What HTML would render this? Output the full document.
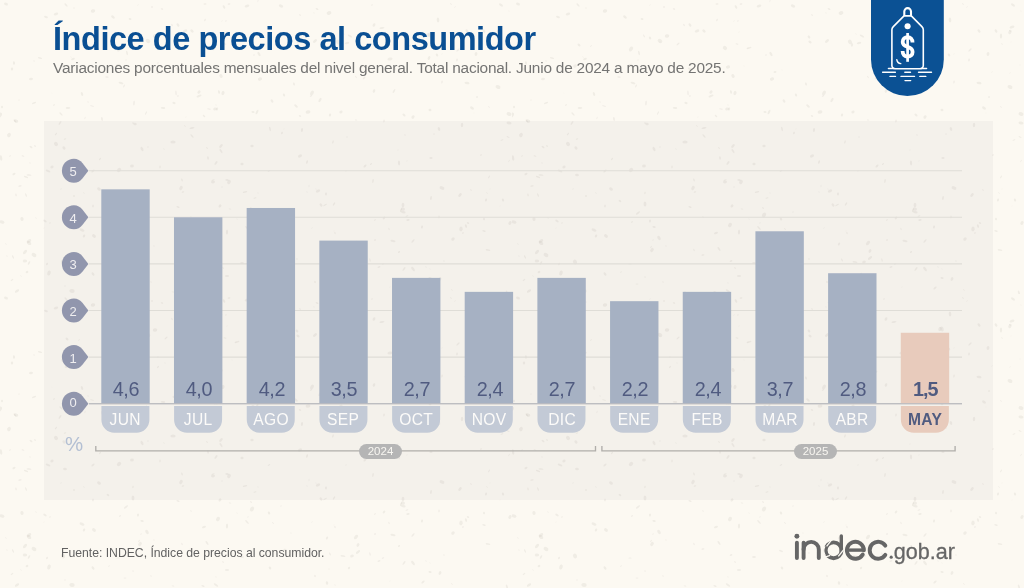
<!DOCTYPE html>
<html><head><meta charset="utf-8"><title>IPC</title>
<style>
*{margin:0;padding:0;box-sizing:border-box}
html,body{width:1024px;height:588px;overflow:hidden;background:#fcf9f2;font-family:"Liberation Sans",sans-serif}
#root{position:relative;width:1024px;height:588px;background:#fcf9f2;overflow:hidden}
#panel{position:absolute;left:44px;top:121px;width:949px;height:379px;background:#f4f1eb}
h1,#sub,.val,.lab,.bn,#pct,.yr,#src,#logo,#icon{will-change:transform}
h1{position:absolute;left:53px;top:20.4px;font-size:32.5px;line-height:38px;font-weight:bold;color:#0a4f93;white-space:nowrap;letter-spacing:-0.45px}
#sub{position:absolute;left:53.2px;top:59.4px;font-size:15.4px;line-height:18px;color:#747473;white-space:nowrap;letter-spacing:-0.21px}
.gl{position:absolute;left:89px;width:873px;height:1px;background:#e3e0da}
.gl.base{background:#b9b8b8}
.gl.base2{background:#b4b5bb;height:1.2px}
.bar{position:absolute;width:48.4px;background:#a6b1c3}
.bar.may{background:#e8cbbc}
.val{position:absolute;width:48.4px;top:375.9px;text-align:center;font-size:19.8px;line-height:26px;color:#505b80;letter-spacing:-0.4px;text-indent:1.4px}
.val.may{font-weight:bold;letter-spacing:-0.9px;text-indent:0.2px}
.lab{position:absolute;width:48px;top:407.7px;height:26.8px;text-align:center;font-size:15.6px;line-height:24.5px;color:#fcfbf9;letter-spacing:0.3px;text-indent:0.3px}
.lab.may{color:#505b80;font-weight:bold}
#chart,#speck{position:absolute;left:0;top:0}
.bn{position:absolute;left:61px;width:24px;text-align:center;font-size:13px;line-height:18px;color:#efeef0}
.bn.z{margin-top:-2px}
#pct{position:absolute;left:65.3px;top:431.6px;font-size:20.4px;line-height:24px;color:#b3bfd3}
.br{position:absolute;height:6px;border:1.5px solid #adaba7;border-top:none}
.yr{position:absolute;top:443.5px;height:15px;border-radius:8px;background:#b5b5b5;color:#f8f6f1;font-size:11.5px;line-height:15px;text-align:center;width:43px}
#src{position:absolute;left:61px;top:546.1px;font-size:12.25px;line-height:15px;color:#626262;white-space:nowrap;letter-spacing:-0.03px}
#logo{position:absolute;left:780px;top:520px}
#icon{position:absolute;left:870.8px;top:0}
</style></head><body>
<div id="root">
<div id="panel"></div>
<svg id="speck" width="1024" height="588"><defs><pattern id="sp" width="512" height="294" patternUnits="userSpaceOnUse"><g fill="#8a8578" fill-opacity="0.10"><ellipse cx="166" cy="44" rx="2.0" ry="0.7" transform="rotate(137 166 44)"/><ellipse cx="48" cy="171" rx="2.5" ry="1.0" transform="rotate(22 48 171)"/><ellipse cx="222" cy="21" rx="0.8" ry="0.4" transform="rotate(144 222 21)"/><ellipse cx="63" cy="66" rx="1.9" ry="1.5" transform="rotate(147 63 66)"/><ellipse cx="300" cy="15" rx="1.1" ry="0.6" transform="rotate(34 300 15)"/><ellipse cx="148" cy="42" rx="0.8" ry="0.4" transform="rotate(174 148 42)"/><ellipse cx="93" cy="171" rx="1.9" ry="0.9" transform="rotate(140 93 171)"/><ellipse cx="365" cy="166" rx="1.9" ry="1.0" transform="rotate(136 365 166)"/><ellipse cx="219" cy="92" rx="1.8" ry="1.0" transform="rotate(76 219 92)"/><ellipse cx="127" cy="53" rx="2.2" ry="0.8" transform="rotate(76 127 53)"/><ellipse cx="269" cy="257" rx="2.1" ry="0.9" transform="rotate(18 269 257)"/><ellipse cx="60" cy="123" rx="2.2" ry="0.8" transform="rotate(125 60 123)"/><ellipse cx="216" cy="283" rx="0.8" ry="0.4" transform="rotate(80 216 283)"/><ellipse cx="174" cy="103" rx="1.6" ry="1.1" transform="rotate(17 174 103)"/><ellipse cx="430" cy="278" rx="1.6" ry="1.0" transform="rotate(15 430 278)"/><ellipse cx="374" cy="91" rx="1.8" ry="1.2" transform="rotate(114 374 91)"/><ellipse cx="146" cy="113" rx="2.0" ry="0.6" transform="rotate(118 146 113)"/><ellipse cx="182" cy="180" rx="1.6" ry="0.7" transform="rotate(73 182 180)"/><ellipse cx="66" cy="73" rx="1.4" ry="1.0" transform="rotate(20 66 73)"/><ellipse cx="85" cy="118" rx="1.2" ry="0.4" transform="rotate(110 85 118)"/><ellipse cx="442" cy="82" rx="1.5" ry="0.7" transform="rotate(97 442 82)"/><ellipse cx="490" cy="44" rx="1.0" ry="0.4" transform="rotate(59 490 44)"/><ellipse cx="6" cy="244" rx="1.0" ry="0.4" transform="rotate(37 6 244)"/><ellipse cx="215" cy="109" rx="1.8" ry="1.4" transform="rotate(176 215 109)"/><ellipse cx="440" cy="279" rx="2.0" ry="1.3" transform="rotate(116 440 279)"/><ellipse cx="461" cy="229" rx="2.4" ry="1.7" transform="rotate(100 461 229)"/><ellipse cx="204" cy="116" rx="1.6" ry="0.8" transform="rotate(48 204 116)"/><ellipse cx="34" cy="61" rx="0.9" ry="0.4" transform="rotate(13 34 61)"/><ellipse cx="52" cy="167" rx="1.7" ry="1.3" transform="rotate(157 52 167)"/><ellipse cx="13" cy="257" rx="1.9" ry="0.7" transform="rotate(64 13 257)"/><ellipse cx="489" cy="177" rx="1.6" ry="0.6" transform="rotate(124 489 177)"/><ellipse cx="508" cy="137" rx="1.6" ry="0.6" transform="rotate(26 508 137)"/><ellipse cx="384" cy="218" rx="1.6" ry="1.0" transform="rotate(132 384 218)"/><ellipse cx="12" cy="280" rx="1.7" ry="0.6" transform="rotate(139 12 280)"/><ellipse cx="468" cy="223" rx="1.2" ry="0.8" transform="rotate(23 468 223)"/><ellipse cx="356" cy="77" rx="1.4" ry="0.5" transform="rotate(57 356 77)"/><ellipse cx="273" cy="229" rx="1.3" ry="0.5" transform="rotate(49 273 229)"/><ellipse cx="413" cy="241" rx="2.2" ry="0.9" transform="rotate(132 413 241)"/><ellipse cx="252" cy="215" rx="2.7" ry="1.9" transform="rotate(120 252 215)"/><ellipse cx="133" cy="204" rx="2.6" ry="1.4" transform="rotate(89 133 204)"/><ellipse cx="489" cy="107" rx="1.1" ry="0.4" transform="rotate(50 489 107)"/><ellipse cx="173" cy="142" rx="2.7" ry="1.6" transform="rotate(0 173 142)"/><ellipse cx="245" cy="192" rx="2.3" ry="0.8" transform="rotate(169 245 192)"/><ellipse cx="61" cy="114" rx="2.1" ry="0.8" transform="rotate(45 61 114)"/><ellipse cx="222" cy="187" rx="0.8" ry="0.6" transform="rotate(101 222 187)"/><ellipse cx="237" cy="219" rx="0.8" ry="0.3" transform="rotate(32 237 219)"/><ellipse cx="14" cy="174" rx="1.6" ry="1.0" transform="rotate(156 14 174)"/><ellipse cx="423" cy="288" rx="2.0" ry="0.9" transform="rotate(140 423 288)"/><ellipse cx="281" cy="6" rx="2.3" ry="1.5" transform="rotate(26 281 6)"/><ellipse cx="270" cy="274" rx="1.5" ry="1.1" transform="rotate(54 270 274)"/><ellipse cx="14" cy="63" rx="1.7" ry="1.1" transform="rotate(83 14 63)"/><ellipse cx="133" cy="123" rx="0.9" ry="0.7" transform="rotate(90 133 123)"/><ellipse cx="460" cy="195" rx="2.3" ry="1.3" transform="rotate(128 460 195)"/><ellipse cx="67" cy="45" rx="1.7" ry="1.2" transform="rotate(46 67 45)"/><ellipse cx="312" cy="228" rx="0.9" ry="0.3" transform="rotate(158 312 228)"/><ellipse cx="371" cy="164" rx="1.3" ry="0.7" transform="rotate(142 371 164)"/><ellipse cx="247" cy="228" rx="2.5" ry="0.8" transform="rotate(48 247 228)"/><ellipse cx="142" cy="227" rx="1.7" ry="1.0" transform="rotate(16 142 227)"/><ellipse cx="227" cy="180" rx="1.7" ry="0.9" transform="rotate(177 227 180)"/><ellipse cx="142" cy="149" rx="2.3" ry="1.3" transform="rotate(63 142 149)"/><ellipse cx="358" cy="258" rx="2.6" ry="1.1" transform="rotate(143 358 258)"/><ellipse cx="457" cy="60" rx="1.5" ry="0.8" transform="rotate(100 457 60)"/><ellipse cx="226" cy="21" rx="1.1" ry="0.4" transform="rotate(171 226 21)"/><ellipse cx="155" cy="36" rx="2.2" ry="1.7" transform="rotate(164 155 36)"/><ellipse cx="338" cy="42" rx="2.5" ry="1.9" transform="rotate(56 338 42)"/><ellipse cx="382" cy="28" rx="2.5" ry="0.9" transform="rotate(170 382 28)"/><ellipse cx="426" cy="47" rx="1.5" ry="0.8" transform="rotate(86 426 47)"/><ellipse cx="216" cy="105" rx="0.8" ry="0.4" transform="rotate(86 216 105)"/><ellipse cx="284" cy="129" rx="0.6" ry="0.3" transform="rotate(159 284 129)"/><ellipse cx="151" cy="282" rx="0.8" ry="0.6" transform="rotate(58 151 282)"/><ellipse cx="498" cy="31" rx="1.2" ry="0.4" transform="rotate(46 498 31)"/><ellipse cx="138" cy="38" rx="1.5" ry="1.1" transform="rotate(66 138 38)"/><ellipse cx="208" cy="158" rx="1.7" ry="0.9" transform="rotate(83 208 158)"/><ellipse cx="46" cy="17" rx="2.0" ry="1.0" transform="rotate(18 46 17)"/><ellipse cx="138" cy="5" rx="0.8" ry="0.3" transform="rotate(155 138 5)"/><ellipse cx="438" cy="20" rx="2.4" ry="1.3" transform="rotate(86 438 20)"/><ellipse cx="509" cy="123" rx="2.5" ry="1.5" transform="rotate(11 509 123)"/><ellipse cx="270" cy="70" rx="0.8" ry="0.3" transform="rotate(12 270 70)"/><ellipse cx="93" cy="274" rx="1.9" ry="1.1" transform="rotate(52 93 274)"/><ellipse cx="148" cy="147" rx="1.0" ry="0.5" transform="rotate(4 148 147)"/><ellipse cx="509" cy="11" rx="0.6" ry="0.4" transform="rotate(48 509 11)"/><ellipse cx="263" cy="72" rx="1.5" ry="1.0" transform="rotate(166 263 72)"/><ellipse cx="221" cy="146" rx="2.4" ry="1.2" transform="rotate(129 221 146)"/><ellipse cx="158" cy="63" rx="1.1" ry="0.4" transform="rotate(162 158 63)"/><ellipse cx="72" cy="291" rx="2.7" ry="1.9" transform="rotate(3 72 291)"/><ellipse cx="36" cy="218" rx="1.1" ry="0.4" transform="rotate(21 36 218)"/><ellipse cx="341" cy="112" rx="1.7" ry="1.3" transform="rotate(153 341 112)"/><ellipse cx="124" cy="86" rx="1.6" ry="0.6" transform="rotate(114 124 86)"/><ellipse cx="2" cy="107" rx="1.3" ry="1.0" transform="rotate(82 2 107)"/><ellipse cx="125" cy="284" rx="1.3" ry="0.6" transform="rotate(0 125 284)"/><ellipse cx="172" cy="25" rx="1.2" ry="0.7" transform="rotate(63 172 25)"/><ellipse cx="258" cy="1" rx="1.2" ry="0.4" transform="rotate(102 258 1)"/><ellipse cx="300" cy="116" rx="1.2" ry="0.8" transform="rotate(21 300 116)"/><ellipse cx="300" cy="156" rx="2.2" ry="1.4" transform="rotate(152 300 156)"/><ellipse cx="199" cy="96" rx="2.7" ry="1.0" transform="rotate(158 199 96)"/><ellipse cx="329" cy="13" rx="2.4" ry="1.8" transform="rotate(160 329 13)"/><ellipse cx="220" cy="206" rx="1.7" ry="1.3" transform="rotate(129 220 206)"/><ellipse cx="291" cy="239" rx="0.6" ry="0.4" transform="rotate(174 291 239)"/><ellipse cx="490" cy="189" rx="0.8" ry="0.2" transform="rotate(163 490 189)"/><ellipse cx="185" cy="31" rx="2.4" ry="1.4" transform="rotate(160 185 31)"/><ellipse cx="10" cy="156" rx="1.1" ry="0.5" transform="rotate(116 10 156)"/><ellipse cx="408" cy="220" rx="1.7" ry="0.9" transform="rotate(168 408 220)"/><ellipse cx="269" cy="219" rx="1.6" ry="1.1" transform="rotate(67 269 219)"/><ellipse cx="120" cy="222" rx="1.1" ry="0.7" transform="rotate(117 120 222)"/><ellipse cx="253" cy="112" rx="1.6" ry="1.0" transform="rotate(11 253 112)"/><ellipse cx="316" cy="189" rx="0.8" ry="0.3" transform="rotate(65 316 189)"/><ellipse cx="334" cy="204" rx="1.9" ry="0.7" transform="rotate(123 334 204)"/><ellipse cx="31" cy="79" rx="2.0" ry="1.3" transform="rotate(172 31 79)"/><ellipse cx="251" cy="208" rx="1.2" ry="0.6" transform="rotate(30 251 208)"/><ellipse cx="509" cy="161" rx="1.3" ry="0.4" transform="rotate(121 509 161)"/><ellipse cx="9" cy="135" rx="2.3" ry="1.8" transform="rotate(115 9 135)"/><ellipse cx="509" cy="114" rx="2.5" ry="1.9" transform="rotate(19 509 114)"/><ellipse cx="298" cy="42" rx="1.7" ry="1.3" transform="rotate(33 298 42)"/><ellipse cx="309" cy="186" rx="1.2" ry="0.4" transform="rotate(93 309 186)"/><ellipse cx="118" cy="264" rx="1.6" ry="0.5" transform="rotate(0 118 264)"/><ellipse cx="486" cy="200" rx="1.5" ry="1.0" transform="rotate(106 486 200)"/><ellipse cx="176" cy="93" rx="2.4" ry="0.7" transform="rotate(86 176 93)"/><ellipse cx="430" cy="35" rx="2.5" ry="1.7" transform="rotate(74 430 35)"/><ellipse cx="130" cy="19" rx="1.4" ry="1.0" transform="rotate(19 130 19)"/><ellipse cx="185" cy="126" rx="1.2" ry="0.4" transform="rotate(26 185 126)"/><ellipse cx="26" cy="195" rx="1.9" ry="0.7" transform="rotate(68 26 195)"/><ellipse cx="223" cy="93" rx="2.2" ry="1.5" transform="rotate(109 223 93)"/><ellipse cx="453" cy="239" rx="1.9" ry="1.5" transform="rotate(141 453 239)"/><ellipse cx="281" cy="212" rx="0.7" ry="0.5" transform="rotate(115 281 212)"/><ellipse cx="315" cy="41" rx="2.4" ry="1.3" transform="rotate(140 315 41)"/><ellipse cx="65" cy="139" rx="1.3" ry="0.6" transform="rotate(167 65 139)"/><ellipse cx="133" cy="193" rx="1.2" ry="0.7" transform="rotate(100 133 193)"/><ellipse cx="61" cy="189" rx="0.8" ry="0.4" transform="rotate(127 61 189)"/><ellipse cx="282" cy="133" rx="1.3" ry="0.9" transform="rotate(109 282 133)"/><ellipse cx="71" cy="57" rx="0.8" ry="0.4" transform="rotate(23 71 57)"/><ellipse cx="163" cy="108" rx="2.3" ry="0.9" transform="rotate(5 163 108)"/><ellipse cx="384" cy="121" rx="1.5" ry="0.8" transform="rotate(96 384 121)"/><ellipse cx="138" cy="221" rx="1.6" ry="1.0" transform="rotate(92 138 221)"/><ellipse cx="64" cy="148" rx="1.9" ry="1.4" transform="rotate(55 64 148)"/><ellipse cx="47" cy="264" rx="1.4" ry="0.9" transform="rotate(110 47 264)"/><ellipse cx="488" cy="250" rx="2.4" ry="0.8" transform="rotate(8 488 250)"/><ellipse cx="218" cy="225" rx="2.3" ry="1.8" transform="rotate(125 218 225)"/><ellipse cx="0" cy="115" rx="2.5" ry="1.8" transform="rotate(119 0 115)"/><ellipse cx="498" cy="73" rx="0.8" ry="0.3" transform="rotate(133 498 73)"/><ellipse cx="498" cy="32" rx="2.3" ry="1.5" transform="rotate(117 498 32)"/><ellipse cx="44" cy="228" rx="0.6" ry="0.2" transform="rotate(145 44 228)"/><ellipse cx="471" cy="190" rx="1.2" ry="0.5" transform="rotate(64 471 190)"/><ellipse cx="270" cy="129" rx="2.2" ry="0.8" transform="rotate(76 270 129)"/><ellipse cx="269" cy="171" rx="1.4" ry="0.6" transform="rotate(153 269 171)"/><ellipse cx="1" cy="158" rx="2.7" ry="1.2" transform="rotate(80 1 158)"/><ellipse cx="330" cy="260" rx="1.6" ry="0.7" transform="rotate(63 330 260)"/><ellipse cx="15" cy="121" rx="2.0" ry="0.6" transform="rotate(49 15 121)"/><ellipse cx="255" cy="198" rx="1.5" ry="0.6" transform="rotate(170 255 198)"/><ellipse cx="217" cy="109" rx="1.6" ry="1.1" transform="rotate(107 217 109)"/><ellipse cx="186" cy="117" rx="0.6" ry="0.3" transform="rotate(129 186 117)"/><ellipse cx="35" cy="146" rx="1.0" ry="0.7" transform="rotate(49 35 146)"/><ellipse cx="118" cy="65" rx="2.2" ry="1.0" transform="rotate(159 118 65)"/><ellipse cx="254" cy="55" rx="1.1" ry="0.5" transform="rotate(170 254 55)"/><ellipse cx="29" cy="175" rx="2.5" ry="0.8" transform="rotate(6 29 175)"/><ellipse cx="499" cy="42" rx="0.7" ry="0.2" transform="rotate(100 499 42)"/><ellipse cx="230" cy="209" rx="1.3" ry="0.4" transform="rotate(20 230 209)"/><ellipse cx="477" cy="97" rx="1.0" ry="0.8" transform="rotate(119 477 97)"/><ellipse cx="16" cy="195" rx="1.4" ry="0.7" transform="rotate(84 16 195)"/><ellipse cx="227" cy="32" rx="0.8" ry="0.3" transform="rotate(107 227 32)"/><ellipse cx="489" cy="36" rx="2.6" ry="1.1" transform="rotate(91 489 36)"/><ellipse cx="394" cy="91" rx="2.3" ry="0.8" transform="rotate(121 394 91)"/><ellipse cx="100" cy="159" rx="1.5" ry="0.7" transform="rotate(121 100 159)"/><ellipse cx="16" cy="121" rx="2.3" ry="1.6" transform="rotate(10 16 121)"/><ellipse cx="192" cy="136" rx="2.3" ry="0.8" transform="rotate(49 192 136)"/><ellipse cx="383" cy="264" rx="1.3" ry="0.6" transform="rotate(157 383 264)"/><ellipse cx="22" cy="219" rx="2.0" ry="1.6" transform="rotate(76 22 219)"/><ellipse cx="2" cy="222" rx="2.5" ry="1.6" transform="rotate(16 2 222)"/><ellipse cx="12" cy="69" rx="1.6" ry="1.2" transform="rotate(98 12 69)"/><ellipse cx="404" cy="269" rx="2.3" ry="0.8" transform="rotate(127 404 269)"/><ellipse cx="94" cy="236" rx="2.2" ry="1.5" transform="rotate(38 94 236)"/><ellipse cx="311" cy="96" rx="1.3" ry="0.6" transform="rotate(152 311 96)"/><ellipse cx="40" cy="58" rx="2.2" ry="0.9" transform="rotate(16 40 58)"/><ellipse cx="333" cy="142" rx="1.7" ry="0.7" transform="rotate(109 333 142)"/><ellipse cx="452" cy="290" rx="1.2" ry="0.4" transform="rotate(24 452 290)"/><ellipse cx="216" cy="291" rx="2.6" ry="1.0" transform="rotate(34 216 291)"/><ellipse cx="213" cy="182" rx="2.0" ry="1.4" transform="rotate(170 213 182)"/><ellipse cx="389" cy="229" rx="1.2" ry="0.5" transform="rotate(68 389 229)"/><ellipse cx="191" cy="217" rx="1.0" ry="0.4" transform="rotate(62 191 217)"/><ellipse cx="121" cy="83" rx="2.5" ry="1.0" transform="rotate(16 121 83)"/><ellipse cx="203" cy="292" rx="1.7" ry="0.7" transform="rotate(25 203 292)"/><ellipse cx="335" cy="291" rx="0.8" ry="0.4" transform="rotate(59 335 291)"/><ellipse cx="430" cy="269" rx="0.7" ry="0.3" transform="rotate(30 430 269)"/><ellipse cx="26" cy="177" rx="2.3" ry="0.9" transform="rotate(19 26 177)"/><ellipse cx="191" cy="255" rx="1.5" ry="0.7" transform="rotate(170 191 255)"/><ellipse cx="484" cy="31" rx="1.9" ry="1.1" transform="rotate(55 484 31)"/><ellipse cx="19" cy="100" rx="0.7" ry="0.6" transform="rotate(9 19 100)"/><ellipse cx="307" cy="192" rx="1.0" ry="0.3" transform="rotate(83 307 192)"/><ellipse cx="209" cy="109" rx="1.9" ry="0.6" transform="rotate(8 209 109)"/><ellipse cx="407" cy="161" rx="0.7" ry="0.3" transform="rotate(101 407 161)"/><ellipse cx="340" cy="45" rx="1.7" ry="1.1" transform="rotate(101 340 45)"/><ellipse cx="356" cy="120" rx="1.2" ry="0.5" transform="rotate(13 356 120)"/><ellipse cx="160" cy="167" rx="1.4" ry="0.7" transform="rotate(93 160 167)"/><ellipse cx="330" cy="115" rx="1.5" ry="1.1" transform="rotate(111 330 115)"/><ellipse cx="462" cy="125" rx="2.3" ry="1.2" transform="rotate(93 462 125)"/><ellipse cx="236" cy="48" rx="0.6" ry="0.4" transform="rotate(164 236 48)"/><ellipse cx="413" cy="117" rx="1.8" ry="1.4" transform="rotate(129 413 117)"/><ellipse cx="88" cy="102" rx="0.9" ry="0.4" transform="rotate(17 88 102)"/><ellipse cx="56" cy="144" rx="2.3" ry="1.8" transform="rotate(50 56 144)"/><ellipse cx="154" cy="246" rx="0.7" ry="0.5" transform="rotate(80 154 246)"/><ellipse cx="27" cy="272" rx="1.4" ry="1.1" transform="rotate(158 27 272)"/><ellipse cx="352" cy="262" rx="1.9" ry="1.4" transform="rotate(158 352 262)"/><ellipse cx="207" cy="249" rx="2.3" ry="0.9" transform="rotate(55 207 249)"/><ellipse cx="21" cy="276" rx="0.9" ry="0.4" transform="rotate(38 21 276)"/><ellipse cx="126" cy="213" rx="2.5" ry="0.8" transform="rotate(143 126 213)"/><ellipse cx="431" cy="198" rx="2.0" ry="0.9" transform="rotate(99 431 198)"/><ellipse cx="307" cy="162" rx="1.9" ry="0.9" transform="rotate(107 307 162)"/><ellipse cx="158" cy="73" rx="1.4" ry="0.7" transform="rotate(128 158 73)"/><ellipse cx="224" cy="7" rx="1.9" ry="1.0" transform="rotate(60 224 7)"/><ellipse cx="229" cy="182" rx="2.3" ry="1.7" transform="rotate(121 229 182)"/><ellipse cx="205" cy="20" rx="1.4" ry="0.7" transform="rotate(113 205 20)"/><ellipse cx="258" cy="193" rx="0.7" ry="0.3" transform="rotate(80 258 193)"/><ellipse cx="398" cy="150" rx="0.7" ry="0.4" transform="rotate(96 398 150)"/><ellipse cx="334" cy="231" rx="0.7" ry="0.2" transform="rotate(157 334 231)"/><ellipse cx="375" cy="240" rx="1.0" ry="0.8" transform="rotate(125 375 240)"/><ellipse cx="147" cy="238" rx="2.3" ry="1.5" transform="rotate(56 147 238)"/><ellipse cx="34" cy="103" rx="2.2" ry="0.8" transform="rotate(157 34 103)"/><ellipse cx="141" cy="240" rx="0.9" ry="0.5" transform="rotate(122 141 240)"/><ellipse cx="107" cy="77" rx="1.7" ry="0.8" transform="rotate(9 107 77)"/><ellipse cx="102" cy="119" rx="1.9" ry="0.9" transform="rotate(83 102 119)"/><ellipse cx="458" cy="50" rx="2.2" ry="0.8" transform="rotate(135 458 50)"/><ellipse cx="25" cy="252" rx="2.6" ry="1.4" transform="rotate(133 25 252)"/><ellipse cx="297" cy="259" rx="0.8" ry="0.7" transform="rotate(161 297 259)"/><ellipse cx="439" cy="217" rx="1.4" ry="0.7" transform="rotate(94 439 217)"/><ellipse cx="296" cy="106" rx="2.2" ry="1.1" transform="rotate(45 296 106)"/><ellipse cx="315" cy="282" rx="1.2" ry="0.7" transform="rotate(79 315 282)"/><ellipse cx="327" cy="289" rx="1.8" ry="1.2" transform="rotate(80 327 289)"/><ellipse cx="375" cy="220" rx="1.1" ry="0.5" transform="rotate(160 375 220)"/><ellipse cx="221" cy="151" rx="2.5" ry="0.9" transform="rotate(58 221 151)"/><ellipse cx="314" cy="13" rx="0.7" ry="0.4" transform="rotate(77 314 13)"/><ellipse cx="54" cy="105" rx="1.1" ry="0.6" transform="rotate(150 54 105)"/><ellipse cx="68" cy="108" rx="2.3" ry="0.9" transform="rotate(3 68 108)"/><ellipse cx="480" cy="72" rx="0.9" ry="0.3" transform="rotate(163 480 72)"/><ellipse cx="74" cy="196" rx="1.2" ry="0.8" transform="rotate(2 74 196)"/><ellipse cx="29" cy="241" rx="2.5" ry="1.5" transform="rotate(148 29 241)"/><ellipse cx="227" cy="276" rx="2.1" ry="0.9" transform="rotate(0 227 276)"/><ellipse cx="23" cy="156" rx="1.5" ry="0.6" transform="rotate(14 23 156)"/><ellipse cx="467" cy="31" rx="1.9" ry="1.2" transform="rotate(50 467 31)"/><ellipse cx="73" cy="59" rx="1.9" ry="1.0" transform="rotate(164 73 59)"/><ellipse cx="213" cy="180" rx="1.7" ry="0.6" transform="rotate(160 213 180)"/><ellipse cx="25" cy="261" rx="2.2" ry="1.5" transform="rotate(1 25 261)"/><ellipse cx="192" cy="128" rx="2.5" ry="0.9" transform="rotate(167 192 128)"/><ellipse cx="232" cy="66" rx="0.8" ry="0.3" transform="rotate(9 232 66)"/><ellipse cx="63" cy="262" rx="2.5" ry="2.0" transform="rotate(67 63 262)"/><ellipse cx="364" cy="78" rx="1.8" ry="0.9" transform="rotate(133 364 78)"/><ellipse cx="498" cy="87" rx="2.5" ry="1.9" transform="rotate(21 498 87)"/><ellipse cx="451" cy="4" rx="1.1" ry="0.5" transform="rotate(51 451 4)"/><ellipse cx="484" cy="219" rx="1.3" ry="1.0" transform="rotate(84 484 219)"/><ellipse cx="308" cy="112" rx="2.4" ry="1.8" transform="rotate(170 308 112)"/><ellipse cx="431" cy="158" rx="1.6" ry="0.9" transform="rotate(1 431 158)"/><ellipse cx="439" cy="129" rx="2.1" ry="1.2" transform="rotate(78 439 129)"/><ellipse cx="404" cy="115" rx="1.8" ry="1.1" transform="rotate(43 404 115)"/><ellipse cx="74" cy="8" rx="0.8" ry="0.6" transform="rotate(88 74 8)"/><ellipse cx="500" cy="206" rx="0.7" ry="0.2" transform="rotate(164 500 206)"/><ellipse cx="325" cy="205" rx="2.1" ry="0.7" transform="rotate(151 325 205)"/><ellipse cx="390" cy="59" rx="2.6" ry="1.5" transform="rotate(170 390 59)"/><ellipse cx="34" cy="255" rx="2.5" ry="1.9" transform="rotate(27 34 255)"/><ellipse cx="126" cy="60" rx="0.7" ry="0.5" transform="rotate(162 126 60)"/><ellipse cx="45" cy="221" rx="1.9" ry="1.0" transform="rotate(33 45 221)"/><ellipse cx="50" cy="223" rx="1.0" ry="0.5" transform="rotate(108 50 223)"/><ellipse cx="134" cy="103" rx="2.6" ry="0.8" transform="rotate(94 134 103)"/><ellipse cx="466" cy="226" rx="1.9" ry="1.0" transform="rotate(73 466 226)"/><ellipse cx="317" cy="9" rx="1.5" ry="0.8" transform="rotate(25 317 9)"/><ellipse cx="178" cy="207" rx="1.7" ry="0.7" transform="rotate(23 178 207)"/><ellipse cx="294" cy="84" rx="1.5" ry="0.9" transform="rotate(73 294 84)"/><ellipse cx="390" cy="287" rx="0.6" ry="0.3" transform="rotate(125 390 287)"/><ellipse cx="356" cy="243" rx="2.6" ry="1.6" transform="rotate(131 356 243)"/><ellipse cx="133" cy="277" rx="1.2" ry="0.5" transform="rotate(179 133 277)"/><ellipse cx="119" cy="49" rx="2.6" ry="1.8" transform="rotate(125 119 49)"/><ellipse cx="403" cy="205" rx="2.3" ry="1.4" transform="rotate(91 403 205)"/><ellipse cx="49" cy="273" rx="2.5" ry="1.7" transform="rotate(108 49 273)"/><ellipse cx="455" cy="7" rx="1.0" ry="0.4" transform="rotate(139 455 7)"/><ellipse cx="257" cy="112" rx="2.5" ry="1.0" transform="rotate(117 257 112)"/><ellipse cx="65" cy="175" rx="2.0" ry="1.2" transform="rotate(8 65 175)"/><ellipse cx="178" cy="96" rx="0.9" ry="0.7" transform="rotate(169 178 96)"/><ellipse cx="284" cy="95" rx="1.6" ry="1.0" transform="rotate(65 284 95)"/><ellipse cx="297" cy="37" rx="1.6" ry="1.2" transform="rotate(60 297 37)"/><ellipse cx="260" cy="79" rx="2.2" ry="1.6" transform="rotate(158 260 79)"/><ellipse cx="79" cy="46" rx="1.1" ry="0.5" transform="rotate(133 79 46)"/><ellipse cx="178" cy="69" rx="2.6" ry="1.1" transform="rotate(26 178 69)"/><ellipse cx="84" cy="193" rx="1.0" ry="0.4" transform="rotate(37 84 193)"/><ellipse cx="407" cy="216" rx="1.5" ry="0.6" transform="rotate(163 407 216)"/><ellipse cx="467" cy="83" rx="2.5" ry="1.3" transform="rotate(3 467 83)"/><ellipse cx="204" cy="233" rx="2.1" ry="1.1" transform="rotate(161 204 233)"/><ellipse cx="152" cy="7" rx="1.1" ry="0.8" transform="rotate(1 152 7)"/><ellipse cx="379" cy="267" rx="1.5" ry="0.9" transform="rotate(165 379 267)"/><ellipse cx="216" cy="67" rx="2.1" ry="1.6" transform="rotate(164 216 67)"/><ellipse cx="358" cy="251" rx="2.0" ry="1.3" transform="rotate(116 358 251)"/><ellipse cx="221" cy="76" rx="2.1" ry="1.5" transform="rotate(62 221 76)"/><ellipse cx="401" cy="210" rx="1.9" ry="0.8" transform="rotate(108 401 210)"/><ellipse cx="247" cy="6" rx="2.4" ry="1.3" transform="rotate(169 247 6)"/><ellipse cx="476" cy="54" rx="2.0" ry="1.4" transform="rotate(99 476 54)"/><ellipse cx="426" cy="267" rx="0.8" ry="0.4" transform="rotate(55 426 267)"/><ellipse cx="82" cy="230" rx="2.6" ry="1.4" transform="rotate(25 82 230)"/><ellipse cx="434" cy="134" rx="1.0" ry="0.6" transform="rotate(4 434 134)"/><ellipse cx="327" cy="244" rx="1.7" ry="0.9" transform="rotate(116 327 244)"/><ellipse cx="108" cy="201" rx="1.4" ry="1.0" transform="rotate(31 108 201)"/><ellipse cx="373" cy="181" rx="1.9" ry="0.8" transform="rotate(97 373 181)"/><ellipse cx="205" cy="4" rx="1.5" ry="0.8" transform="rotate(178 205 4)"/><ellipse cx="346" cy="171" rx="0.8" ry="0.4" transform="rotate(102 346 171)"/><ellipse cx="481" cy="155" rx="1.1" ry="0.7" transform="rotate(100 481 155)"/><ellipse cx="237" cy="48" rx="2.6" ry="0.9" transform="rotate(162 237 48)"/><ellipse cx="99" cy="189" rx="2.1" ry="1.5" transform="rotate(37 99 189)"/><ellipse cx="181" cy="188" rx="2.3" ry="1.6" transform="rotate(119 181 188)"/><ellipse cx="510" cy="223" rx="2.0" ry="1.4" transform="rotate(120 510 223)"/><ellipse cx="182" cy="250" rx="1.2" ry="0.6" transform="rotate(64 182 250)"/><ellipse cx="503" cy="200" rx="1.6" ry="1.1" transform="rotate(71 503 200)"/><ellipse cx="183" cy="192" rx="1.3" ry="0.7" transform="rotate(159 183 192)"/><ellipse cx="326" cy="194" rx="1.4" ry="1.0" transform="rotate(98 326 194)"/><ellipse cx="29" cy="243" rx="2.5" ry="1.7" transform="rotate(35 29 243)"/><ellipse cx="272" cy="101" rx="1.8" ry="1.1" transform="rotate(53 272 101)"/><ellipse cx="487" cy="193" rx="1.1" ry="0.4" transform="rotate(36 487 193)"/><ellipse cx="437" cy="55" rx="1.5" ry="1.1" transform="rotate(53 437 55)"/><ellipse cx="463" cy="233" rx="1.0" ry="0.7" transform="rotate(155 463 233)"/><ellipse cx="500" cy="27" rx="2.5" ry="1.4" transform="rotate(162 500 27)"/><ellipse cx="429" cy="58" rx="2.1" ry="1.2" transform="rotate(112 429 58)"/><ellipse cx="344" cy="34" rx="0.8" ry="0.4" transform="rotate(35 344 34)"/><ellipse cx="242" cy="164" rx="1.6" ry="1.2" transform="rotate(179 242 164)"/><ellipse cx="252" cy="146" rx="1.7" ry="1.3" transform="rotate(1 252 146)"/><ellipse cx="82" cy="94" rx="2.1" ry="1.1" transform="rotate(75 82 94)"/><ellipse cx="430" cy="110" rx="1.5" ry="1.2" transform="rotate(19 430 110)"/><ellipse cx="92" cy="106" rx="2.0" ry="0.6" transform="rotate(11 92 106)"/><ellipse cx="349" cy="274" rx="1.3" ry="1.0" transform="rotate(130 349 274)"/><ellipse cx="248" cy="223" rx="0.9" ry="0.4" transform="rotate(106 248 223)"/><ellipse cx="320" cy="100" rx="2.4" ry="1.2" transform="rotate(121 320 100)"/><ellipse cx="399" cy="163" rx="2.5" ry="1.1" transform="rotate(87 399 163)"/><ellipse cx="216" cy="163" rx="2.3" ry="1.0" transform="rotate(126 216 163)"/><ellipse cx="207" cy="148" rx="1.2" ry="0.6" transform="rotate(52 207 148)"/><ellipse cx="335" cy="233" rx="1.3" ry="0.6" transform="rotate(76 335 233)"/><ellipse cx="65" cy="286" rx="0.8" ry="0.6" transform="rotate(102 65 286)"/><ellipse cx="370" cy="260" rx="1.7" ry="0.6" transform="rotate(76 370 260)"/><ellipse cx="56" cy="14" rx="2.3" ry="1.3" transform="rotate(168 56 14)"/><ellipse cx="31" cy="147" rx="1.7" ry="0.8" transform="rotate(37 31 147)"/><ellipse cx="321" cy="205" rx="1.9" ry="1.2" transform="rotate(54 321 205)"/><ellipse cx="20" cy="186" rx="1.9" ry="0.7" transform="rotate(169 20 186)"/><ellipse cx="93" cy="11" rx="2.2" ry="1.7" transform="rotate(167 93 11)"/><ellipse cx="7" cy="256" rx="0.9" ry="0.4" transform="rotate(66 7 256)"/><ellipse cx="442" cy="54" rx="0.7" ry="0.2" transform="rotate(144 442 54)"/><ellipse cx="329" cy="275" rx="0.7" ry="0.4" transform="rotate(10 329 275)"/><ellipse cx="422" cy="227" rx="1.5" ry="1.0" transform="rotate(103 422 227)"/><ellipse cx="229" cy="4" rx="1.4" ry="0.8" transform="rotate(168 229 4)"/><ellipse cx="502" cy="140" rx="1.5" ry="0.5" transform="rotate(164 502 140)"/><ellipse cx="242" cy="263" rx="1.9" ry="1.0" transform="rotate(2 242 263)"/><ellipse cx="350" cy="36" rx="2.6" ry="0.9" transform="rotate(31 350 36)"/><ellipse cx="66" cy="5" rx="2.1" ry="0.9" transform="rotate(47 66 5)"/><ellipse cx="472" cy="108" rx="2.2" ry="1.4" transform="rotate(37 472 108)"/><ellipse cx="374" cy="25" rx="1.9" ry="1.3" transform="rotate(117 374 25)"/><ellipse cx="343" cy="262" rx="2.5" ry="0.8" transform="rotate(8 343 262)"/><ellipse cx="6" cy="4" rx="2.0" ry="1.4" transform="rotate(20 6 4)"/><ellipse cx="199" cy="92" rx="1.9" ry="1.4" transform="rotate(124 199 92)"/><ellipse cx="312" cy="93" rx="2.6" ry="1.7" transform="rotate(120 312 93)"/><ellipse cx="347" cy="43" rx="2.3" ry="1.1" transform="rotate(165 347 43)"/><ellipse cx="84" cy="236" rx="1.6" ry="1.1" transform="rotate(115 84 236)"/><ellipse cx="484" cy="231" rx="1.8" ry="0.8" transform="rotate(15 484 231)"/><ellipse cx="318" cy="191" rx="2.3" ry="1.4" transform="rotate(155 318 191)"/><ellipse cx="372" cy="5" rx="0.9" ry="0.7" transform="rotate(149 372 5)"/><ellipse cx="219" cy="261" rx="1.4" ry="0.9" transform="rotate(154 219 261)"/><ellipse cx="395" cy="69" rx="1.5" ry="1.0" transform="rotate(82 395 69)"/><ellipse cx="135" cy="124" rx="1.8" ry="1.3" transform="rotate(10 135 124)"/><ellipse cx="148" cy="41" rx="2.5" ry="2.0" transform="rotate(37 148 41)"/><ellipse cx="140" cy="250" rx="2.3" ry="1.5" transform="rotate(127 140 250)"/><ellipse cx="178" cy="25" rx="1.8" ry="1.2" transform="rotate(51 178 25)"/><ellipse cx="403" cy="212" rx="2.7" ry="1.2" transform="rotate(14 403 212)"/><ellipse cx="347" cy="137" rx="1.0" ry="0.4" transform="rotate(2 347 137)"/><ellipse cx="405" cy="135" rx="0.8" ry="0.6" transform="rotate(16 405 135)"/><ellipse cx="119" cy="170" rx="2.5" ry="1.8" transform="rotate(133 119 170)"/><ellipse cx="164" cy="149" rx="1.0" ry="0.4" transform="rotate(23 164 149)"/><ellipse cx="93" cy="206" rx="1.4" ry="0.8" transform="rotate(103 93 206)"/><ellipse cx="399" cy="252" rx="1.1" ry="0.9" transform="rotate(126 399 252)"/><ellipse cx="192" cy="31" rx="1.9" ry="1.3" transform="rotate(39 192 31)"/><ellipse cx="162" cy="9" rx="1.2" ry="0.7" transform="rotate(24 162 9)"/><ellipse cx="17" cy="291" rx="2.4" ry="1.3" transform="rotate(145 17 291)"/><ellipse cx="109" cy="272" rx="1.2" ry="0.4" transform="rotate(114 109 272)"/><ellipse cx="393" cy="241" rx="2.6" ry="1.1" transform="rotate(9 393 241)"/><ellipse cx="173" cy="292" rx="1.4" ry="0.4" transform="rotate(8 173 292)"/><ellipse cx="285" cy="256" rx="1.6" ry="1.2" transform="rotate(16 285 256)"/><ellipse cx="442" cy="188" rx="2.5" ry="1.7" transform="rotate(23 442 188)"/><ellipse cx="132" cy="166" rx="1.9" ry="1.5" transform="rotate(171 132 166)"/><ellipse cx="259" cy="54" rx="2.4" ry="1.2" transform="rotate(60 259 54)"/><ellipse cx="508" cy="65" rx="0.7" ry="0.3" transform="rotate(90 508 65)"/><ellipse cx="30" cy="163" rx="0.7" ry="0.5" transform="rotate(66 30 163)"/><ellipse cx="403" cy="209" rx="2.0" ry="1.6" transform="rotate(14 403 209)"/><ellipse cx="52" cy="93" rx="0.6" ry="0.2" transform="rotate(76 52 93)"/><ellipse cx="302" cy="130" rx="2.0" ry="1.1" transform="rotate(95 302 130)"/><ellipse cx="132" cy="36" rx="1.6" ry="0.6" transform="rotate(61 132 36)"/><ellipse cx="413" cy="269" rx="2.5" ry="1.3" transform="rotate(49 413 269)"/><ellipse cx="409" cy="46" rx="2.3" ry="0.8" transform="rotate(158 409 46)"/><ellipse cx="444" cy="261" rx="0.9" ry="0.5" transform="rotate(24 444 261)"/><ellipse cx="474" cy="113" rx="0.6" ry="0.2" transform="rotate(86 474 113)"/><ellipse cx="165" cy="69" rx="0.8" ry="0.4" transform="rotate(84 165 69)"/><ellipse cx="113" cy="17" rx="2.1" ry="1.2" transform="rotate(37 113 17)"/><ellipse cx="225" cy="44" rx="1.5" ry="0.6" transform="rotate(6 225 44)"/><ellipse cx="139" cy="247" rx="1.3" ry="0.5" transform="rotate(125 139 247)"/><ellipse cx="56" cy="134" rx="1.6" ry="0.6" transform="rotate(131 56 134)"/><ellipse cx="29" cy="263" rx="2.0" ry="0.8" transform="rotate(122 29 263)"/><ellipse cx="428" cy="35" rx="2.2" ry="1.7" transform="rotate(110 428 35)"/><ellipse cx="507" cy="293" rx="2.5" ry="0.9" transform="rotate(74 507 293)"/><ellipse cx="213" cy="48" rx="2.3" ry="1.9" transform="rotate(36 213 48)"/><ellipse cx="501" cy="5" rx="2.3" ry="1.1" transform="rotate(35 501 5)"/><ellipse cx="227" cy="232" rx="2.6" ry="1.1" transform="rotate(92 227 232)"/><ellipse cx="223" cy="268" rx="1.1" ry="0.6" transform="rotate(35 223 268)"/></g></pattern></defs><rect width="1024" height="588" fill="url(#sp)"/></svg>
<h1>Índice de precios al consumidor</h1>
<div id="sub">Variaciones porcentuales mensuales del nivel general. Total nacional. Junio de 2024 a mayo de 2025.</div>
<svg id="icon" width="74" height="97" viewBox="0 0 74 97"><path d="M0 0H72.800V59.600A36.400 36.400 0 0 1 0 59.600Z" fill="#0b5194"/>
<g fill="none" stroke="#fff" stroke-width="1.600" stroke-linecap="round" stroke-linejoin="round">
<path stroke-width="2.100" d="M33.300 15.200V11.500a3.350 3.350 0 0 1 6.700 0v3.700"/>
<path d="M17.500 68.500h5.500M50 68.500h5.500"/>
<path d="M33 15.900h7.300L50.900 26.600Q52.300 28 52.300 29.800V65.500a3.200 3.200 0 0 1-3.200 3.200H24.100a3.200 3.200 0 0 1-3.200-3.200V29.800Q20.900 28 22.300 26.600Z"/>
<path stroke-width="1.400" d="M25.800 59.600a4.500 4.500 0 0 0 4 4"/>
<path stroke-width="1.400" d="M11.600 72.300h12.800M33.800 72.300h5.700M47.500 72.300h13M19 76.400h5.500M30 76.400h13.500M48.800 76.400h6M34 80.600h5.700"/>
</g>
<circle cx="36.600" cy="26.200" r="3.050" fill="#fff"/>
<g fill="none" stroke="#fff" stroke-linecap="butt">
<path stroke-width="3.800" d="M41.500 42.600C41.500 39.200 39.400 37.200 36.600 37.200C33.800 37.200 31.700 39.100 31.700 41.900C31.700 44.800 34 45.900 36.600 46.800C39.400 47.800 41.600 49 41.600 51.900C41.600 54.700 39.500 56.500 36.600 56.500C33.700 56.500 31.600 54.600 31.600 51"/>
<path stroke-width="2.700" d="M36.600 33V61.800"/>
</g>
</svg>
<svg id="chart" width="1024" height="588" viewBox="0 0 1024 588"><path d="M89 357.10H962" stroke="#dfddd7" stroke-width="1.1"/>
<path d="M89 310.50H962" stroke="#dfddd7" stroke-width="1.1"/>
<path d="M89 263.90H962" stroke="#dfddd7" stroke-width="1.1"/>
<path d="M89 217.30H962" stroke="#dfddd7" stroke-width="1.1"/>
<path d="M89 170.70H962" stroke="#dfddd7" stroke-width="1.1"/>
<path d="M89 403.70H962" stroke="#bdbcbc" stroke-width="1.1"/>
<rect x="101.30" y="189.34" width="48.4" height="214.36" fill="#a6b1c3"/>
<path d="M101.40 406.0H149.40V419.80A13 13 0 0 1 136.40 432.8H114.40A13 13 0 0 1 101.40 419.80Z" fill="#c3cad6"/>
<rect x="173.98" y="217.30" width="48.4" height="186.40" fill="#a6b1c3"/>
<path d="M174.08 406.0H222.08V419.80A13 13 0 0 1 209.08 432.8H187.08A13 13 0 0 1 174.08 419.80Z" fill="#c3cad6"/>
<rect x="246.66" y="207.98" width="48.4" height="195.72" fill="#a6b1c3"/>
<path d="M246.76 406.0H294.76V419.80A13 13 0 0 1 281.76 432.8H259.76A13 13 0 0 1 246.76 419.80Z" fill="#c3cad6"/>
<rect x="319.34" y="240.60" width="48.4" height="163.10" fill="#a6b1c3"/>
<path d="M319.44 406.0H367.44V419.80A13 13 0 0 1 354.44 432.8H332.44A13 13 0 0 1 319.44 419.80Z" fill="#c3cad6"/>
<rect x="392.02" y="277.88" width="48.4" height="125.82" fill="#a6b1c3"/>
<path d="M392.12 406.0H440.12V419.80A13 13 0 0 1 427.12 432.8H405.12A13 13 0 0 1 392.12 419.80Z" fill="#c3cad6"/>
<rect x="464.70" y="291.86" width="48.4" height="111.84" fill="#a6b1c3"/>
<path d="M464.80 406.0H512.80V419.80A13 13 0 0 1 499.80 432.8H477.80A13 13 0 0 1 464.80 419.80Z" fill="#c3cad6"/>
<rect x="537.38" y="277.88" width="48.4" height="125.82" fill="#a6b1c3"/>
<path d="M537.48 406.0H585.48V419.80A13 13 0 0 1 572.48 432.8H550.48A13 13 0 0 1 537.48 419.80Z" fill="#c3cad6"/>
<rect x="610.06" y="301.18" width="48.4" height="102.52" fill="#a6b1c3"/>
<path d="M610.16 406.0H658.16V419.80A13 13 0 0 1 645.16 432.8H623.16A13 13 0 0 1 610.16 419.80Z" fill="#c3cad6"/>
<rect x="682.74" y="291.86" width="48.4" height="111.84" fill="#a6b1c3"/>
<path d="M682.84 406.0H730.84V419.80A13 13 0 0 1 717.84 432.8H695.84A13 13 0 0 1 682.84 419.80Z" fill="#c3cad6"/>
<rect x="755.42" y="231.28" width="48.4" height="172.42" fill="#a6b1c3"/>
<path d="M755.52 406.0H803.52V419.80A13 13 0 0 1 790.52 432.8H768.52A13 13 0 0 1 755.52 419.80Z" fill="#c3cad6"/>
<rect x="828.10" y="273.22" width="48.4" height="130.48" fill="#a6b1c3"/>
<path d="M828.20 406.0H876.20V419.80A13 13 0 0 1 863.20 432.8H841.20A13 13 0 0 1 828.20 419.80Z" fill="#c3cad6"/>
<rect x="900.78" y="332.77" width="48.4" height="70.93" fill="#e8cbbc"/>
<path d="M900.88 406.0H948.88V419.80A13 13 0 0 1 935.88 432.8H913.88A13 13 0 0 1 900.88 419.80Z" fill="#e8cbbc"/>
<path d="M89 403.70H962" stroke="#bbbcc1" stroke-width="1"/>
<path transform="translate(61.6 391.20)" d="M12.3 0.5 C16 0.5 18.5 2 21 5 L26.8 12.5 L21 20 C18.5 23 16 24.5 12.3 24.5 A12 12 0 0 1 12.3 0.5Z" fill="#9196ad"/>
<path transform="translate(61.6 344.60)" d="M12.3 0.5 C16 0.5 18.5 2 21 5 L26.8 12.5 L21 20 C18.5 23 16 24.5 12.3 24.5 A12 12 0 0 1 12.3 0.5Z" fill="#9196ad"/>
<path transform="translate(61.6 298.00)" d="M12.3 0.5 C16 0.5 18.5 2 21 5 L26.8 12.5 L21 20 C18.5 23 16 24.5 12.3 24.5 A12 12 0 0 1 12.3 0.5Z" fill="#9196ad"/>
<path transform="translate(61.6 251.40)" d="M12.3 0.5 C16 0.5 18.5 2 21 5 L26.8 12.5 L21 20 C18.5 23 16 24.5 12.3 24.5 A12 12 0 0 1 12.3 0.5Z" fill="#9196ad"/>
<path transform="translate(61.6 204.80)" d="M12.3 0.5 C16 0.5 18.5 2 21 5 L26.8 12.5 L21 20 C18.5 23 16 24.5 12.3 24.5 A12 12 0 0 1 12.3 0.5Z" fill="#9196ad"/>
<path transform="translate(61.6 158.20)" d="M12.3 0.5 C16 0.5 18.5 2 21 5 L26.8 12.5 L21 20 C18.5 23 16 24.5 12.3 24.5 A12 12 0 0 1 12.3 0.5Z" fill="#9196ad"/>
<g fill="none" stroke="#b0aeaa" stroke-width="1.35"><path d="M95.8 446.1V450.9H595.5V446.1"/><path d="M601.9 446.1V450.9H955.1V446.1"/></g></svg>
<div class="val" style="left:101.3px">4,6</div>
<div class="lab" style="left:101.4px">JUN</div>
<div class="val" style="left:174.0px">4,0</div>
<div class="lab" style="left:174.1px">JUL</div>
<div class="val" style="left:246.7px">4,2</div>
<div class="lab" style="left:246.8px">AGO</div>
<div class="val" style="left:319.3px">3,5</div>
<div class="lab" style="left:319.4px">SEP</div>
<div class="val" style="left:392.0px">2,7</div>
<div class="lab" style="left:392.1px">OCT</div>
<div class="val" style="left:464.7px">2,4</div>
<div class="lab" style="left:464.8px">NOV</div>
<div class="val" style="left:537.4px">2,7</div>
<div class="lab" style="left:537.5px">DIC</div>
<div class="val" style="left:610.1px">2,2</div>
<div class="lab" style="left:610.2px">ENE</div>
<div class="val" style="left:682.7px">2,4</div>
<div class="lab" style="left:682.8px">FEB</div>
<div class="val" style="left:755.4px">3,7</div>
<div class="lab" style="left:755.5px">MAR</div>
<div class="val" style="left:828.1px">2,8</div>
<div class="lab" style="left:828.2px">ABR</div>
<div class="val may" style="left:900.8px">1,5</div>
<div class="lab may" style="left:900.9px">MAY</div>
<div class="bn z" style="top:396.2px">0</div>
<div class="bn" style="top:349.6px">1</div>
<div class="bn" style="top:303.0px">2</div>
<div class="bn" style="top:256.4px">3</div>
<div class="bn" style="top:209.8px">4</div>
<div class="bn" style="top:163.2px">5</div>
<div id="pct">%</div>
<div class="yr" style="left:359px">2024</div>
<div class="yr" style="left:794.2px">2025</div>
<div id="src">Fuente: INDEC, Índice de precios al consumidor.</div>
<svg id="logo" width="200" height="60" viewBox="0 0 200 60">
<g fill="none" stroke="#666" stroke-width="3.900" stroke-linecap="round">
<path d="M16.900 22.800V38"/>
<path d="M23.600 22.800V38"/>
<path d="M23.600 29.500A7.600 7.600 0 0 1 38.800 29.500V38"/>
<circle cx="53.600" cy="30.300" r="7.950"/>
<path d="M61.300 16V30.500" stroke-width="3.400" />
<path d="M83.900 30.250A8.500 8.500 0 1 0 82.760 34.500"/>
<path d="M67 30.100H83.900" stroke-linecap="butt" stroke-width="3.400"/>
<path d="M105.330 25.620A8.500 8.500 0 1 0 105.330 34.880"/>
</g>
<g stroke="#fcf9f2" stroke-width="1.300" fill="none"><path d="M46.600 26.400L52 19.300"/><path d="M43.500 37.600L50.200 35.400"/><path d="M58.300 36.400L64.400 28.900" stroke-width="1.400"/><path d="M45 26.300A9.300 9.300 0 0 0 45.400 35.600" stroke-width="1.100"/></g>
<circle cx="16.900" cy="16.200" r="2.450" fill="#666"/>
<circle cx="111.200" cy="37.200" r="1.600" fill="#666"/>
<text x="113.800" y="38.700" font-family="Liberation Sans" font-size="22" fill="#666" stroke="#666" stroke-width="0.300" textLength="61.200" lengthAdjust="spacingAndGlyphs">gob.ar</text>
</svg>
</div>
</body></html>
